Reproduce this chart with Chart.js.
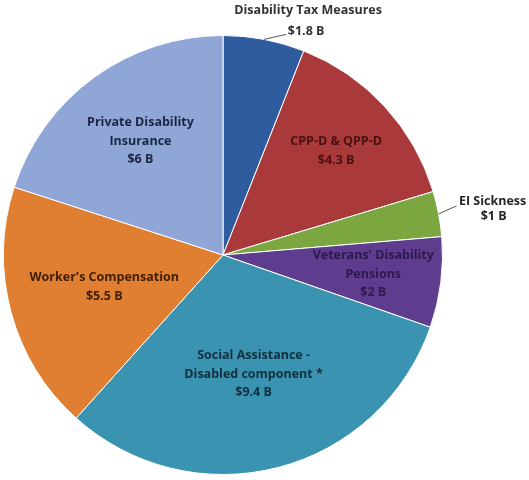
<!DOCTYPE html>
<html>
<head>
<meta charset="utf-8">
<script src="https://cdn.jsdelivr.net/npm/chart.js@4"></script>
<style>
  html, body { margin: 0; padding: 0; background: #fff; }
  canvas { display: block; }
</style>
</head>
<body>
<canvas id="pie" width="529" height="480"></canvas>
<script>
// program names and spending (billions of dollars)
const categories = ['Disability Tax Measures', 'CPP-D & QPP-D', 'EI Sickness', "Veterans' Disability Pensions",
  'Social Assistance - Disabled component *', "Worker's Compensation", 'Private Disability Insurance'];
const amounts = [1.8, 4.3, 1, 2, 9.4, 5.5, 6];
const amountLabels = ['$1.8 B', '$4.3 B', '$1 B', '$2 B', '$9.4 B', '$5.5 B', '$6 B'];
const labelLines = [
  ['Disability Tax Measures'],
  ['CPP-D & QPP-D'],
  ['EI Sickness'],
  ["Veterans' Disability", 'Pensions'],
  ['Social Assistance -', 'Disabled component *'],
  ["Worker's Compensation"],
  ['Private Disability', 'Insurance']
];

const sliceColors = ['#2f5c9f', '#a9393a', '#7ba640', '#5e3d8e', '#3a93b1', '#e07f32', '#8fa6d6'];
const textColors = ['#333333', '#4a1212', '#262626', '#2b1a4e', '#11303e', '#3f2006', '#1b2542'];

// where each label sits: inside (fraction of radius) or outside with a leader line
const labelPlace = [
  { outside: true, lead: [22, -5], text: [[22, -24], [20, -3]] },
  { rf: 0.70 },
  { outside: true, lead: [18, -8], text: [[36, -4], [37, 11]] },
  { rf: 0.69 },
  { rf: 0.56 },
  { rf: 0.56 },
  { rf: 0.64 }
];

const labelPlugin = {
  id: 'sliceLabels',
  afterDatasetsDraw(chart) {
    const ctx = chart.ctx;
    const arcs = chart.getDatasetMeta(0).data;
    ctx.save();
    ctx.font = 'bold 12.5px "Open Sans", sans-serif';
    ctx.textAlign = 'center';
    ctx.textBaseline = 'middle';
    arcs.forEach((arc, i) => {
      const mid = (arc.startAngle + arc.endAngle) / 2;
      const place = labelPlace[i];
      const lines = labelLines[i].concat([amountLabels[i]]);
      ctx.fillStyle = textColors[i];
      if (place.outside) {
        const sx = arc.x + Math.cos(mid) * arc.outerRadius;
        const sy = arc.y + Math.sin(mid) * arc.outerRadius;
        const ex = sx + place.lead[0];
        const ey = sy + place.lead[1];
        ctx.strokeStyle = '#555';
        ctx.lineWidth = 1;
        ctx.beginPath();
        ctx.moveTo(sx, sy);
        ctx.lineTo(ex, ey);
        ctx.stroke();
        lines.forEach((t, k) => {
          ctx.fillText(t, ex + place.text[k][0], ey + place.text[k][1]);
        });
      } else {
        const cx = arc.x + Math.cos(mid) * arc.outerRadius * place.rf;
        const cy = arc.y + Math.sin(mid) * arc.outerRadius * place.rf;
        const lh = 18.5;
        const top = cy - (lines.length - 1) * lh / 2;
        lines.forEach((t, k) => ctx.fillText(t, cx, top + k * lh));
      }
    });
    ctx.restore();
  }
};

new Chart(document.getElementById('pie'), {
  type: 'pie',
  data: {
    labels: categories,
    datasets: [{
      data: amounts,
      backgroundColor: sliceColors,
      borderColor: '#ffffff',
      borderWidth: 1
    }]
  },
  options: {
    responsive: false,
    animation: false,
    devicePixelRatio: 1,
    layout: { padding: { left: 2, right: 85, top: 35, bottom: 5 } },
    plugins: {
      legend: { display: false },
      tooltip: { enabled: false }
    }
  },
  plugins: [labelPlugin]
});
</script>
</body>
</html>
